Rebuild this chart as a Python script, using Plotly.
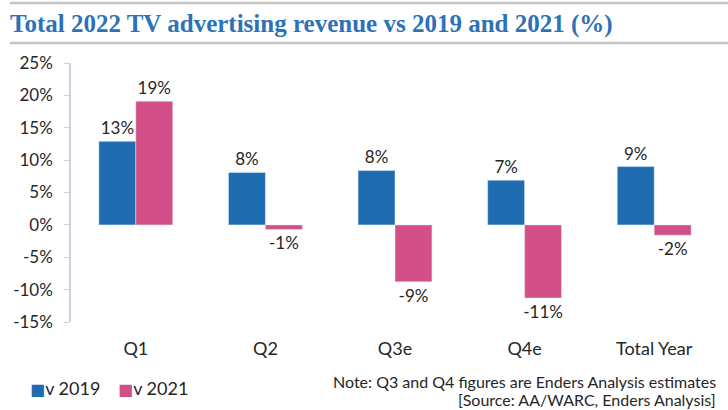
import plotly.graph_objects as go

categories = ["Q1", "Q2", "Q3e", "Q4e", "Total Year"]
v2019 = [12.9, 8.1, 8.4, 6.9, 9.0]
v2021 = [19.1, -0.7, -8.8, -11.3, -1.6]
labels2019 = ["13%", "8%", "8%", "7%", "9%"]
labels2021 = ["19%", "-1%", "-9%", "-11%", "-2%"]
ytickvals = [-15, -10, -5, 0, 5, 10, 15, 20, 25]
yticktext = ["-15%", "-10%", "-5%", "0%", "5%", "10%", "15%", "20%", "25%"]

BLUE = "#1f6cb1"
PINK = "#d24f87"
TXT = "#262626"
AXC = "#c9d0de"
FONT = "Lato, Roboto, sans-serif"

W, H = 728, 410
ML, MR, MT, MB = 71, 9, 63, 88
PW = W - ML - MR
PH = H - MT - MB
YMIN, YMAX = -15, 25

def px_to_paper_x(px):
    return (px - ML) / PW

def px_to_paper_y(py):
    return (H - MB - py) / PH

fig = go.Figure()
fig.add_trace(go.Bar(x=categories, y=v2019, name="v 2019", marker_color=BLUE,
                     text=labels2019, textposition="outside", constraintext="none",
                     textfont=dict(size=17, color=TXT, family=FONT), cliponaxis=False))
fig.add_trace(go.Bar(x=categories, y=v2021, name="v 2021", marker_color=PINK,
                     text=labels2021, textposition="outside", constraintext="none",
                     textfont=dict(size=17, color=TXT, family=FONT), cliponaxis=False))

fig.update_layout(
    width=W, height=H,
    margin=dict(l=ML, r=MR, t=MT, b=MB),
    paper_bgcolor="white", plot_bgcolor="white",
    barmode="group", bargap=0.43, bargroupgap=0,
    showlegend=False,
    font=dict(family=FONT, size=16, color=TXT),
    title=dict(text="<b>Total 2022 TV advertising revenue vs 2019 and 2021 (%)</b>",
               font=dict(family="Liberation Serif, DejaVu Serif, serif", size=25, color="#2d72b8"),
               xref="container", yref="container", x=10 / W, xanchor="left",
               y=1 - 23 / H, yanchor="middle"),
    xaxis=dict(type="category", showline=False, showgrid=False, zeroline=False,
               ticks="outside", ticklen=10, tickcolor="rgba(0,0,0,0)",
               tickfont=dict(size=18, color=TXT, family=FONT)),
    xaxis2=dict(overlaying="x", anchor="free",
                position=(0 - YMIN) / (YMAX - YMIN),
                range=[-0.5, len(categories) - 0.5],
                tickvals=[i - 0.5 for i in range(len(categories) + 1)],
                showticklabels=False, ticks="outside", ticklen=5, tickcolor=AXC,
                showline=True, linecolor=AXC, linewidth=1.5, showgrid=False, zeroline=False),
    yaxis=dict(range=[YMIN, YMAX], tickvals=ytickvals, ticktext=yticktext,
               showline=True, linecolor=AXC, linewidth=1.5, showgrid=False, zeroline=False,
               ticks="outside", ticklen=5, tickcolor=AXC, ticklabelstandoff=8,
               tickfont=dict(size=17, color=TXT, family=FONT)),
)

# header rules
for py in (3, 43):
    fig.add_shape(type="line", xref="paper", yref="paper", layer="above",
                  x0=px_to_paper_x(10), x1=px_to_paper_x(728),
                  y0=px_to_paper_y(py), y1=px_to_paper_y(py),
                  line=dict(color="#c4c4c4", width=2.5))

# legend (custom)
for lx, col, name in ((28, BLUE, "v 2019"), (116, PINK, "v 2021")):
    fig.add_annotation(xref="paper", yref="paper", x=px_to_paper_x(lx), y=px_to_paper_y(388),
                       xanchor="left", yanchor="middle", showarrow=False,
                       text=f'<span style="color:{col};font-family:DejaVu Sans;font-size:16px">■</span>{name}',
                       font=dict(size=18, color=TXT, family=FONT))

# notes
fig.add_annotation(xref="paper", yref="paper", x=px_to_paper_x(718), y=px_to_paper_y(381),
                   xanchor="right", yanchor="middle", showarrow=False,
                   text="Note: Q3 and Q4 figures are Enders Analysis estimates",
                   font=dict(size=16, color=TXT, family=FONT))
fig.add_annotation(xref="paper", yref="paper", x=px_to_paper_x(718), y=px_to_paper_y(399),
                   xanchor="right", yanchor="middle", showarrow=False,
                   text="[Source: AA/WARC, Enders Analysis]",
                   font=dict(size=16, color=TXT, family=FONT))

fig.write_html("out.html", config={"displayModeBar": False},
               post_script="document.body.style.margin='0';")
